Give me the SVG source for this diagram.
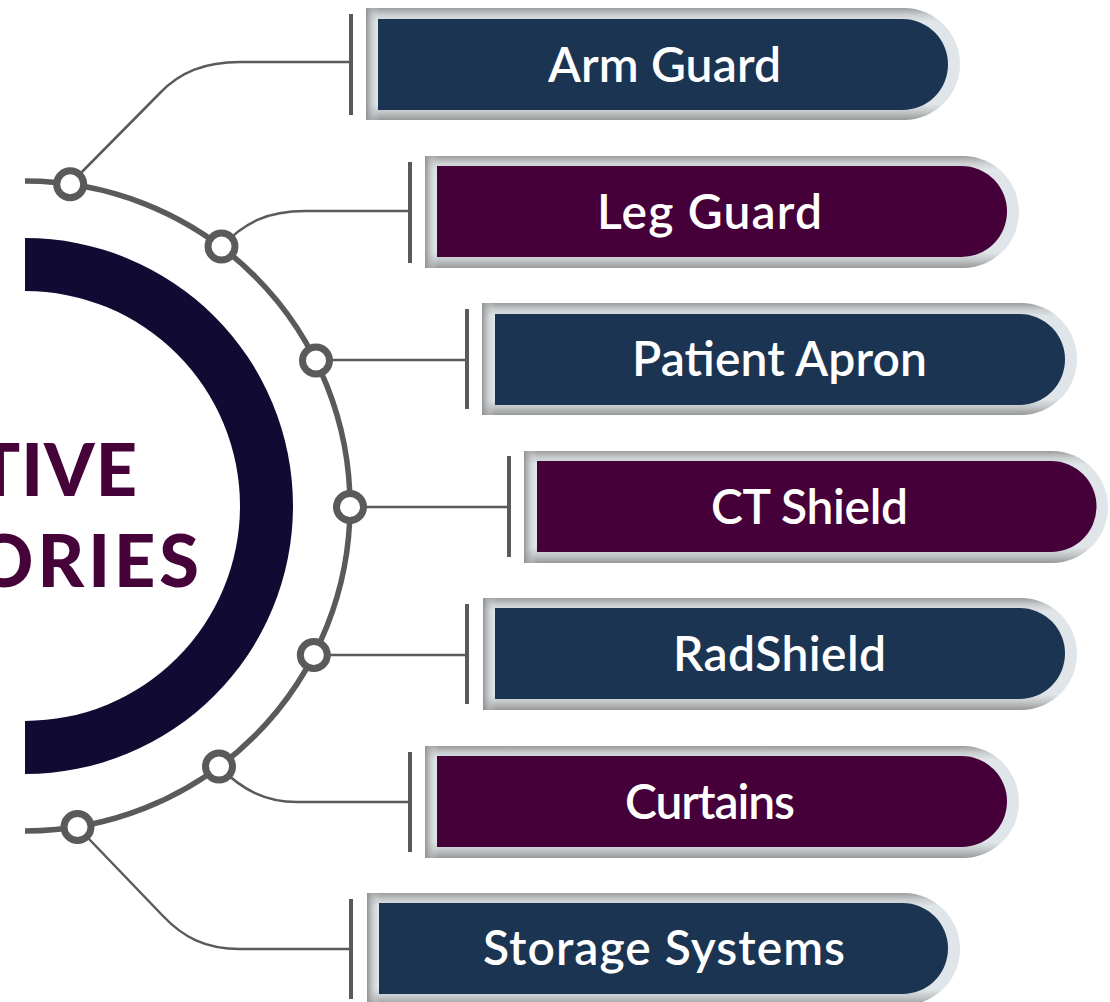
<svg xmlns="http://www.w3.org/2000/svg" width="1110" height="1002" viewBox="0 0 1110 1002">
  <style>
    .arc { fill: none; stroke: #5a5a5a; stroke-width: 5.5; }
    .conn { fill: none; stroke: #5a5a5a; stroke-width: 2.5; }
    .tick { fill: #5a5a5a; }
    .dot { fill: #ffffff; stroke: #5a5a5a; stroke-width: 7; }
    .frame { fill: url(#frameV); }
    .edge { fill: url(#frameL); }
    .navy { fill: #1b3452; }
    .plum { fill: #45003a; }
    .lbl { fill: #ffffff; font-family: "Lato", "Noto Sans", sans-serif; font-weight: 600; font-size: 48px; text-anchor: middle; }
    .title { fill: #45033a; font-family: "Lato", "Noto Sans", sans-serif; font-weight: 900; font-size: 72px; text-anchor: end; }
  </style>
  <defs>
    <linearGradient id="frameV" x1="0" y1="0" x2="0" y2="1">
      <stop offset="0" stop-color="#9c9c9c"/>
      <stop offset="0.06" stop-color="#c9cdcf"/>
      <stop offset="0.12" stop-color="#dfe5e8"/>
      <stop offset="0.86" stop-color="#dfe5e8"/>
      <stop offset="0.93" stop-color="#c2c6c8"/>
      <stop offset="1" stop-color="#989898"/>
    </linearGradient>
    <linearGradient id="frameL" x1="0" y1="0" x2="1" y2="0">
      <stop offset="0" stop-color="#8f8f8f" stop-opacity="0.95"/>
      <stop offset="1" stop-color="#dfe5e8" stop-opacity="0"/>
    </linearGradient>
  </defs>

  <rect width="1110" height="1002" fill="#ffffff"/>

  <g id="title">
    <path d="M25,238 A268,268 0 0 1 25,774 L25,721 A215,215 0 0 0 25,291 Z" fill="#110b34"/>
    <text class="title" x="138" y="496" letter-spacing="1">TIVE</text>
    <text class="title" x="199" y="587" textLength="224" lengthAdjust="spacing">ORIES</text>
  </g>

  <g id="connectors">
    <path class="arc" d="M25,181 A325,325 0 0 1 25,831"/>
    <path class="conn" d="M70,184 L160,93 C180,72 205,62 240,62 L351,62"/>
    <path class="conn" d="M221,247 C245,222 268,211 305,211 L410,211"/>
    <path class="conn" d="M316,360 L467,360"/>
    <path class="conn" d="M350,507 L509,507"/>
    <path class="conn" d="M314,655 L467,655"/>
    <path class="conn" d="M219,767 C243,790 265,802 297,802 L410,802"/>
    <path class="conn" d="M77.5,827 L163,916 C183,937 205,949 240,949 L351,949"/>
    <rect class="tick" x="349" y="14" width="4" height="101"/>
    <rect class="tick" x="408" y="162" width="4" height="101"/>
    <rect class="tick" x="465" y="309" width="4" height="100"/>
    <rect class="tick" x="507" y="456" width="4" height="101"/>
    <rect class="tick" x="465" y="604" width="4" height="100"/>
    <rect class="tick" x="408" y="752" width="4" height="100"/>
    <rect class="tick" x="349" y="899" width="4" height="100"/>
    <circle class="dot" cx="70.2" cy="184.2" r="13.5"/>
    <circle class="dot" cx="221.5" cy="246.5" r="13.5"/>
    <circle class="dot" cx="316" cy="360.5" r="13.5"/>
    <circle class="dot" cx="350" cy="507" r="13.5"/>
    <circle class="dot" cx="313.8" cy="655" r="13.5"/>
    <circle class="dot" cx="219" cy="766.6" r="13.5"/>
    <circle class="dot" cx="77.5" cy="827" r="13.5"/>
  </g>

  <g id="arm-guard">
    <path class="frame" d="M366,8 H904 A56,56 0 0 1 904,120 H366 Z"/>
    <rect class="edge" x="366" y="8" width="13" height="112"/>
    <path class="navy" d="M378,19 H902.5 A45.5,45.5 0 0 1 902.5,110 H378 Z"/>
    <text class="lbl" x="664.5" y="82" textLength="233">Arm Guard</text>
  </g>

  <g id="leg-guard">
    <path class="frame" d="M425,156 H963 A56,56 0 0 1 963,268 H425 Z"/>
    <rect class="edge" x="425" y="156" width="13" height="112"/>
    <path class="plum" d="M437,166 H961.5 A45.5,45.5 0 0 1 961.5,257 H437 Z"/>
    <text class="lbl" x="709.5" y="229" textLength="225">Leg Guard</text>
  </g>

  <g id="patient-apron">
    <path class="frame" d="M482,303 H1021 A56,56 0 0 1 1021,415 H482 Z"/>
    <rect class="edge" x="482" y="303" width="13" height="112"/>
    <path class="navy" d="M495,314 H1019.5 A45.5,45.5 0 0 1 1019.5,405 H495 Z"/>
    <text class="lbl" x="779.5" y="376" textLength="295">Patient Apron</text>
  </g>

  <g id="ct-shield">
    <path class="frame" d="M524,451 H1052 A56,56 0 0 1 1052,563 H524 Z"/>
    <rect class="edge" x="524" y="451" width="13" height="112"/>
    <path class="plum" d="M537,461 H1051 A45.5,45.5 0 0 1 1051,552 H537 Z"/>
    <text class="lbl" x="809.5" y="524" textLength="197">CT Shield</text>
  </g>

  <g id="radshield">
    <path class="frame" d="M483,598 H1021 A56,56 0 0 1 1021,710 H483 Z"/>
    <rect class="edge" x="483" y="598" width="13" height="112"/>
    <path class="navy" d="M495,608 H1019.5 A45.5,45.5 0 0 1 1019.5,699 H495 Z"/>
    <text class="lbl" x="779.5" y="671" textLength="213">RadShield</text>
  </g>

  <g id="curtains">
    <path class="frame" d="M425,746 H963 A56,56 0 0 1 963,858 H425 Z"/>
    <rect class="edge" x="425" y="746" width="13" height="112"/>
    <path class="plum" d="M437,756 H961.5 A45.5,45.5 0 0 1 961.5,847 H437 Z"/>
    <text class="lbl" x="710" y="819" textLength="170">Curtains</text>
  </g>

  <g id="storage-systems">
    <path class="frame" d="M367,893 H904 A56,56 0 0 1 904,1005 H367 Z"/>
    <rect class="edge" x="367" y="893" width="13" height="112"/>
    <path class="navy" d="M379,903 H902.5 A45.5,45.5 0 0 1 902.5,994 H379 Z"/>
    <text class="lbl" x="664" y="965" textLength="362">Storage Systems</text>
  </g>
</svg>
